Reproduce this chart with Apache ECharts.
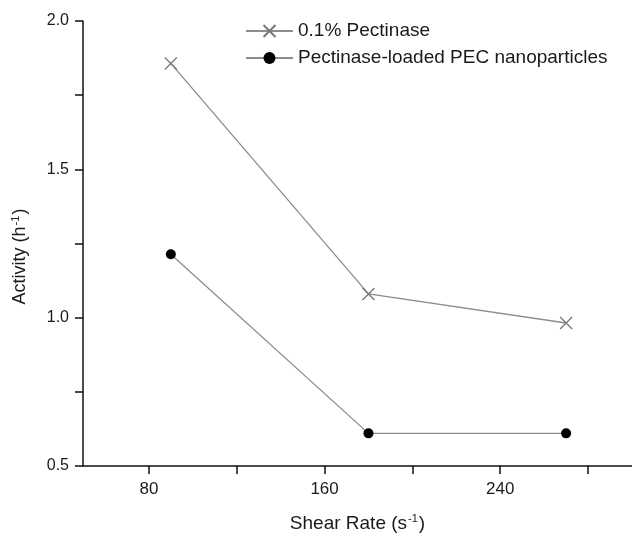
<!DOCTYPE html>
<html>
<head>
<meta charset="utf-8">
<script src="https://cdn.jsdelivr.net/npm/echarts@6/dist/echarts.min.js"></script>
<style>
html,body{margin:0;padding:0;background:#fff;}
#chart{width:632px;height:533px;}
</style>
</head>
<body>
<div id="chart"></div>
<script>
const shearRate = [90, 180, 270];
const pectinase = [1.857, 1.08, 0.982];
const nanoparticles = [1.214, 0.61, 0.61];
const seriesNames = ['0.1% Pectinase', 'Pectinase-loaded PEC nanoparticles'];
const xTickValues = [80, 120, 160, 200, 240, 280];
const xLabelValues = [80, 160, 240];
const yTickValues = [0.5, 0.75, 1.0, 1.25, 1.5, 1.75, 2.0];
const yLabelValues = [0.5, 1.0, 1.5, 2.0];

const chart = echarts.init(document.getElementById('chart'));
const font = 'Liberation Sans, Arial, sans-serif';
const textColor = '#1a1a1a';
const lineGray = '#8c8c8c';

function pairs(xs, ys) { return xs.map((x, i) => [x, ys[i]]); }

chart.setOption({
  animation: false,
  backgroundColor: '#fff',
  grid: { left: 83, right: 0, top: 21, bottom: 67, containLabel: false, outerBoundsMode: 'none' },
  legend: {
    orient: 'vertical',
    left: 245,
    top: 21,
    padding: 0,
    itemWidth: 47,
    itemHeight: 15,
    itemGap: 7,
    data: seriesNames,
    textStyle: { fontFamily: font, fontSize: 19, color: textColor, lineHeight: 20 }
  },
  xAxis: {
    type: 'value',
    min: 50,
    max: 300,
    name: '{n|Shear Rate (s}{sup|-1}{n|)}',
    nameLocation: 'middle',
    nameGap: 47,
    nameTextStyle: {
      rich: {
        n: { fontFamily: font, fontSize: 19, color: textColor },
        sup: { fontFamily: font, fontSize: 11, color: textColor, padding: [0, 1, 10, 1] }
      }
    },
    axisLine: { show: true, onZero: false, lineStyle: { color: '#111', width: 1.5 } },
    axisTick: { show: true, inside: false, length: 8, customValues: xTickValues, lineStyle: { color: '#111', width: 1.5 } },
    axisLabel: { customValues: xLabelValues, margin: 15, fontFamily: font, fontSize: 17, color: textColor },
    splitLine: { show: false }
  },
  yAxis: {
    type: 'value',
    min: 0.5,
    max: 2.0,
    interval: 0.5,
    name: '{n|Activity (h}{sup|-1}{n|)}',
    nameLocation: 'middle',
    nameGap: 52,
    nameRotate: 90,
    nameTextStyle: {
      padding: [0, 26, 0, 0],
      rich: {
        n: { fontFamily: font, fontSize: 18, color: textColor },
        sup: { fontFamily: font, fontSize: 11, color: textColor, padding: [0, 1, 10, 1] }
      }
    },
    axisLine: { show: true, lineStyle: { color: '#111', width: 1.5 } },
    axisTick: { show: true, inside: false, length: 8, customValues: yTickValues, lineStyle: { color: '#111', width: 1.5 } },
    axisLabel: { customValues: yLabelValues, margin: 14, fontFamily: font, fontSize: 16, color: textColor, formatter: v => v.toFixed(1) },
    splitLine: { show: false }
  },
  series: [
    {
      name: seriesNames[0],
      type: 'line',
      data: pairs(shearRate, pectinase),
      symbol: 'path://M0,0L10,10M10,0L0,10',
      symbolSize: 12,
      showAllSymbol: true,
      lineStyle: { color: lineGray, width: 1.3 },
      itemStyle: { color: 'none', borderColor: '#777', borderWidth: 1.3 }
    },
    {
      name: seriesNames[1],
      type: 'line',
      data: pairs(shearRate, nanoparticles),
      symbol: 'circle',
      symbolSize: 10,
      showAllSymbol: true,
      lineStyle: { color: lineGray, width: 1.3 },
      itemStyle: { color: '#000', borderColor: '#000', borderWidth: 0 }
    }
  ]
});
</script>
</body>
</html>
